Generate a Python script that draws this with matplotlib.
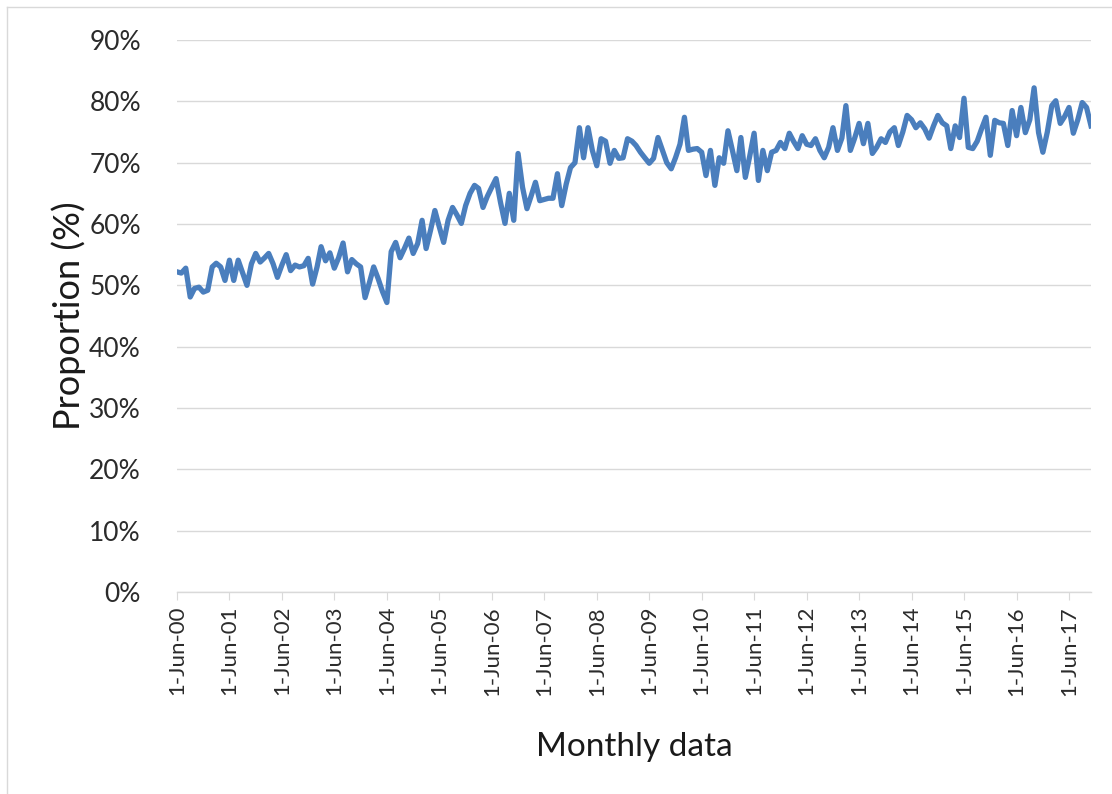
import numpy as np
import pandas as pd
import matplotlib
matplotlib.use("Agg")
import matplotlib.pyplot as plt
import matplotlib.dates as mdates
from matplotlib.ticker import PercentFormatter, MultipleLocator
from matplotlib.lines import Line2D

# Monthly proportions (%) from Jun 2000 to Nov 2017
start_month = "2000-06-01"
proportion = [
    52.2, 52.0, 52.8, 48.1, 49.5, 49.7, 48.9, 49.2, 53.0, 53.6,
    53.0, 50.8, 54.1, 50.8, 54.1, 52.0, 50.0, 53.5, 55.2, 53.8,
    54.5, 55.2, 53.5, 51.3, 53.3, 55.0, 52.4, 53.3, 53.0, 53.2,
    54.4, 50.2, 53.0, 56.3, 54.0, 55.3, 52.8, 54.5, 56.9, 52.2,
    54.2, 53.5, 53.0, 48.0, 50.5, 53.0, 51.1, 49.0, 47.2, 55.5,
    57.0, 54.5, 56.0, 57.7, 55.2, 56.8, 60.6, 56.0, 59.0, 62.2,
    59.5, 57.0, 60.6, 62.7, 61.5, 60.1, 63.0, 65.0, 66.3, 65.8,
    62.7, 64.5, 66.0, 67.4, 63.5, 60.1, 65.0, 60.6, 71.5, 66.0,
    62.5, 64.5, 66.8, 63.8, 64.0, 64.2, 64.2, 68.2, 63.0, 66.5,
    69.2, 70.0, 75.7, 70.8, 75.7, 72.0, 69.5, 73.9, 73.5, 69.9,
    72.0, 70.7, 70.8, 73.9, 73.5, 72.8, 71.7, 70.8, 69.9, 70.7,
    74.1, 72.0, 70.0, 69.0, 70.8, 73.0, 77.4, 72.0, 72.2, 72.3,
    71.7, 67.9, 72.0, 66.3, 70.8, 69.9, 75.2, 72.0, 68.7, 74.1,
    67.6, 71.0, 74.8, 67.1, 72.0, 68.7, 71.7, 72.0, 73.3, 72.3,
    74.8, 73.5, 72.3, 74.4, 73.0, 72.8, 73.9, 72.0, 70.8, 72.5,
    75.7, 72.0, 74.0, 79.3, 72.0, 74.0, 76.4, 73.1, 76.4, 71.5,
    72.5, 73.9, 73.3, 75.0, 75.7, 72.8, 75.0, 77.7, 77.0, 75.7,
    76.5, 75.5, 74.0, 76.0, 77.7, 76.5, 76.0, 72.3, 76.0, 74.1,
    80.5, 72.5, 72.3, 73.5, 75.5, 77.4, 71.2, 76.9, 76.5, 76.4,
    72.8, 78.5, 74.4, 79.0, 74.9, 77.0, 82.2, 74.9, 71.7, 75.0,
    79.3, 80.1, 76.4, 77.5, 79.0, 74.8, 77.0, 79.8, 79.0, 76.0,
]
months = pd.date_range(start_month, periods=len(proportion), freq="MS")
values = np.array(proportion) / 100

font = "Lato"
plt.rcParams["font.family"] = [font, "DejaVu Sans"]

fig = plt.figure(figsize=(11.12, 7.94), dpi=100)
ax = fig.add_axes([177 / 1112, 1 - 592 / 794, (1091 - 177) / 1112, (592 - 40) / 794])

ax.plot(months, values, color="#4A7EBD", lw=3.8, solid_joinstyle="round")

ax.set_ylim(0, 0.9)
ax.yaxis.set_major_locator(MultipleLocator(0.1))
ax.yaxis.set_major_formatter(PercentFormatter(1.0, decimals=0))
ax.set_xlim(months[0], months[-1])
ax.xaxis.set_major_locator(mdates.MonthLocator(bymonth=6, bymonthday=1))
ax.xaxis.set_major_formatter(mdates.DateFormatter("1-%b-%y"))

ax.grid(axis="y", color="#D9D9D9", lw=1)
ax.set_axisbelow(True)
for s in ["top", "right", "left"]:
    ax.spines[s].set_visible(False)
ax.spines["bottom"].set_color("#D9D9D9")
ax.spines["bottom"].set_linewidth(1)

ax.tick_params(axis="y", length=0, pad=26, labelsize=19, labelcolor="#2B2B2B")
ax.tick_params(axis="x", length=6, color="#D9D9D9", pad=4, labelsize=16,
               labelcolor="#2B2B2B", labelrotation=90)

ax.set_ylabel("Proportion (%)", fontsize=26, color="#1A1A1A", labelpad=2)
ax.set_xlabel("Monthly data", fontsize=24, color="#1A1A1A", labelpad=26)

# chart area border (left and top edges visible)
fig.add_artist(Line2D([7 / 1112, 7 / 1112], [0, 1 - 7 / 794], transform=fig.transFigure,
                      color="#D9D9D9", lw=1))
fig.add_artist(Line2D([7 / 1112, 1], [1 - 7 / 794, 1 - 7 / 794], transform=fig.transFigure,
                      color="#D9D9D9", lw=1))

fig.savefig("out.png", dpi=100, facecolor="white")
